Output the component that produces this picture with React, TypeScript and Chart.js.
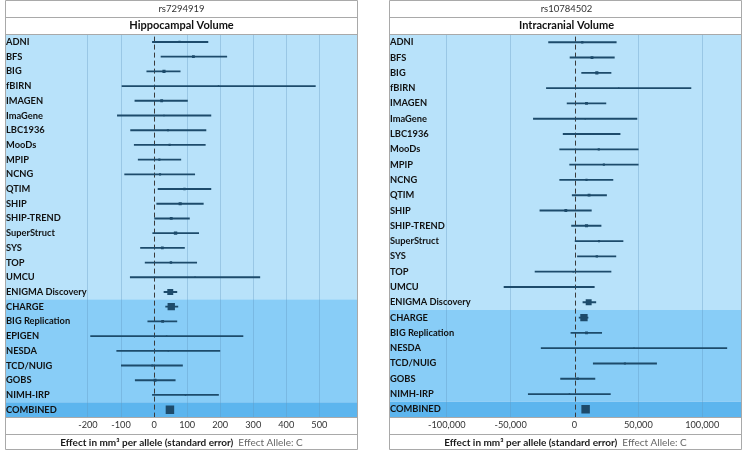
import React, { useEffect, useRef } from 'react';
import { Chart, registerables } from 'chart.js';

Chart.register(...registerables);

const FONT = 'Lato, "DejaVu Sans", sans-serif';

// ---------- Left panel: rs7294919 / Hippocampal Volume ----------
const hvSnp = 'rs7294919';
const hvTitle = 'Hippocampal Volume';
const hvStudies = ['ADNI', 'BFS', 'BIG', 'fBIRN', 'IMAGEN', 'ImaGene', 'LBC1936', 'MooDs', 'MPIP', 'NCNG', 'QTIM', 'SHIP', 'SHIP-TREND', 'SuperStruct', 'SYS', 'TOP', 'UMCU', 'ENIGMA Discovery', 'CHARGE', 'BIG Replication', 'EPIGEN', 'NESDA', 'TCD/NUIG', 'GOBS', 'NIMH-IRP', 'COMBINED'];
const hvEffect = [77, 119, 30, 195, 23, 30, 42, 47, 16, 18, 92, 79, 52, 65, 25, 51, 124, 49, 52, 26, 38, 43, -5, 3, 95, 48];
const hvLower = [-5, 21, -22, -97, -58, -111, -71, -60, -48, -89, 12, 8, 0, -4, -41, -27, -72, 30, 35, -19, -192, -113, -99, -57, -5, 43];
const hvUpper = [163, 220, 79, 488, 101, 172, 157, 155, 81, 123, 172, 149, 107, 135, 92, 129, 320, 69, 72, 69, 269, 199, 86, 64, 195, 53];
const hvWeight = [1.6, 2, 2.2, 1, 2, 1, 1.5, 1.5, 1.5, 1.5, 1.7, 2.2, 2, 2.4, 2, 1.7, 1, 4.2, 5.2, 2, 1, 1, 1.5, 2, 1, 6];
const hvGroupSizes = [18, 7, 1];
const hvTicks = [-200, -100, 0, 100, 200, 300, 400, 500];

// ---------- Right panel: rs10784502 / Intracranial Volume ----------
const icvSnp = 'rs10784502';
const icvTitle = 'Intracranial Volume';
const icvStudies = ['ADNI', 'BFS', 'BIG', 'fBIRN', 'IMAGEN', 'ImaGene', 'LBC1936', 'MooDs', 'MPIP', 'NCNG', 'QTIM', 'SHIP', 'SHIP-TREND', 'SuperStruct', 'SYS', 'TOP', 'UMCU', 'ENIGMA Discovery', 'CHARGE', 'BIG Replication', 'NESDA', 'TCD/NUIG', 'GOBS', 'NIMH-IRP', 'COMBINED'];
const icvEffect = [6100, 13700, 17500, 34600, 9400, 8400, 13700, 19000, 23000, 9400, 11400, -6800, 9400, 19200, 17500, -1000, -19800, 11100, 7400, 9400, 46600, 39500, 2500, -4000, 8700];
const icvLower = [-20300, -3500, 5600, -22000, -5800, -32200, -8900, -11600, -3800, -11600, -1800, -27100, -2300, 500, 2300, -30900, -55200, 6600, 3600, -2800, -26100, 14700, -10900, -36200, 7500];
const icvUpper = [32700, 31200, 28600, 91200, 24600, 48900, 35700, 49900, 49900, 30100, 25100, 13200, 20800, 38000, 32400, 28600, 15500, 16700, 10600, 21300, 119300, 64300, 16000, 28100, 10000];
const icvWeight = [1.6, 2, 2.2, 1, 2, 1, 1.5, 1.5, 1.5, 1.5, 2, 2, 2.2, 1.5, 1.7, 1, 1, 4.2, 5.2, 2, 1, 1.5, 1.7, 1, 6];
const icvGroupSizes = [18, 6, 1];
const icvTicks = [-100000, -50000, 0, 50000, 100000];

const xLabelMain = 'Effect in mm³ per allele (standard error)';
const xLabelAllele = 'Effect Allele: C';

const bandColors = ['#b8e2fa', '#88cdf7', '#5cb5ee'];
const borderColor = '#a9a9a9';
const markColor = '#1d4b6b';

const forestPlugin = {
  id: 'forest',
  beforeDraw(chart: any, _args: any, opts: any) {
    const { ctx, chartArea: ca, scales } = chart;
    const y = scales.y;
    const n = chart.data.labels.length;
    const rowH = (ca.bottom - ca.top) / n;
    ctx.save();
    ctx.fillStyle = '#ffffff';
    ctx.fillRect(0, 0, chart.width, chart.height);
    let start = 0;
    opts.groups.forEach((count: number, gi: number) => {
      const top = y.getPixelForValue(start) - rowH / 2;
      const bottom = y.getPixelForValue(start + count - 1) + rowH / 2;
      ctx.fillStyle = bandColors[gi];
      ctx.fillRect(ca.left, top, ca.right - ca.left, bottom - top);
      start += count;
    });
    ctx.restore();
  },
  beforeDatasetsDraw(chart: any) {
    const { ctx, chartArea: ca, scales } = chart;
    const x0 = Math.round(scales.x.getPixelForValue(0)) + 0.5;
    ctx.save();
    ctx.strokeStyle = '#3a3a3a';
    ctx.lineWidth = 1;
    ctx.setLineDash([5, 3]);
    ctx.beginPath();
    ctx.moveTo(x0, ca.top + 2);
    ctx.lineTo(x0, ca.bottom);
    ctx.stroke();
    ctx.restore();
  },
  afterDraw(chart: any) {
    const { ctx, chartArea: ca } = chart;
    const left = ca.left - 0.5;
    const right = ca.right + 0.5;
    const titleBottom = Math.round(chart.titleBlock.bottom) + 0.5;
    const lines = [0.5, titleBottom, Math.round(ca.top) - 0.5, Math.round(ca.bottom) + 0.5, Math.round(ca.bottom) + 17.5, chart.height - 1.5];
    ctx.save();
    ctx.strokeStyle = borderColor;
    ctx.lineWidth = 1;
    ctx.beginPath();
    lines.forEach((yy) => {
      ctx.moveTo(left, yy);
      ctx.lineTo(right, yy);
    });
    ctx.moveTo(left, 0.5);
    ctx.lineTo(left, chart.height - 1.5);
    ctx.moveTo(right, 0.5);
    ctx.lineTo(right, chart.height - 1.5);
    ctx.stroke();

    // x-axis caption: bold part + grey allele note
    const cy = ca.bottom + 17 + 8.5;
    ctx.textBaseline = 'middle';
    ctx.font = `bold 10px ${FONT}`;
    const w1 = ctx.measureText(xLabelMain).width;
    ctx.font = `10px ${FONT}`;
    const gap = 5;
    const w2 = ctx.measureText(xLabelAllele).width;
    const mid = (ca.left + Math.min(ca.right, chart.width - 2)) / 2;
    const sx = mid - (w1 + gap + w2) / 2;
    ctx.textAlign = 'left';
    ctx.font = `bold 10px ${FONT}`;
    ctx.fillStyle = '#1a1a1a';
    ctx.fillText(xLabelMain, sx, cy);
    ctx.font = `10px ${FONT}`;
    ctx.fillStyle = '#666666';
    ctx.fillText(xLabelAllele, sx + w1 + gap, cy);
    ctx.restore();
  },
};

type PanelProps = {
  snp: string;
  title: string;
  studies: string[];
  effect: number[];
  lower: number[];
  upper: number[];
  weight: number[];
  groups: number[];
  ticks: number[];
  min: number;
  max: number;
  width: number;
  left: number;
  padRight: number;
};

function ForestPanel(p: PanelProps) {
  const ref = useRef<HTMLCanvasElement | null>(null);
  useEffect(() => {
    if (!ref.current) return;
    const chart = new Chart(ref.current, {
      type: 'bar',
      data: {
        labels: p.studies,
        datasets: [
          {
            type: 'bar',
            data: p.studies.map((_, i) => [p.lower[i], p.upper[i]]) as any,
            backgroundColor: markColor,
            borderWidth: 0,
            barThickness: 1.2,
            order: 2,
          } as any,
          {
            type: 'scatter',
            data: p.studies.map((s, i) => ({ x: p.effect[i], y: s })) as any,
            pointStyle: 'rect',
            pointRadius: p.weight,
            pointBackgroundColor: markColor,
            pointBorderWidth: 0,
            order: 1,
          } as any,
        ],
      },
      options: {
        indexAxis: 'y',
        responsive: false,
        animation: false,
        events: [],
        layout: { padding: { left: 2, right: p.padRight, top: 0, bottom: 1 } },
        plugins: {
          legend: { display: false },
          tooltip: { enabled: false },
          title: {
            display: true,
            text: p.snp,
            color: '#333333',
            font: { family: FONT, size: 9.5, weight: 'normal', lineHeight: 1.4 },
            padding: { top: 2, bottom: 2 },
          },
          subtitle: {
            display: true,
            text: p.title,
            color: '#111111',
            font: { family: FONT, size: 11, weight: 'bold', lineHeight: 1.3 },
            padding: { top: 1.5, bottom: 1.5 },
          },
          forest: { groups: p.groups },
        } as any,
        scales: {
          x: {
            type: 'linear',
            min: p.min,
            max: p.max,
            afterBuildTicks: (scale: any) => {
              scale.ticks = p.ticks.map((v) => ({ value: v }));
            },
            afterFit: (scale: any) => {
              scale.height = 33;
            },
            grid: {
              drawTicks: false,
              color: (ctx: any) => (ctx.tick && ctx.tick.value === 0 ? 'rgba(0,0,0,0)' : 'rgba(95,150,190,0.35)'),
            },
            border: { display: false },
            ticks: {
              padding: 3,
              autoSkip: false,
              maxRotation: 0,
              color: '#333333',
              font: { family: FONT, size: 9.2 },
              callback: (v: any) => Number(v).toLocaleString('en-US'),
            },
          },
          y: {
            type: 'category',
            afterFit: (scale: any) => {
              scale.width = 0;
            },
            grid: { display: false, drawTicks: false },
            border: { display: false },
            ticks: {
              mirror: true,
              padding: 0,
              autoSkip: false,
              color: '#111111',
              font: { family: FONT, size: 9.3, weight: 'bold' },
            },
          },
        },
      } as any,
      plugins: [forestPlugin as any],
    });
    return () => chart.destroy();
  }, []);
  return (
    <canvas
      ref={ref}
      width={p.width}
      height={451}
      style={{ position: 'absolute', left: p.left, top: 0, width: p.width, height: 451, display: 'block' }}
    />
  );
}

export default function App() {
  return (
    <div style={{ position: 'absolute', left: 0, top: 0, width: 746, height: 451, overflow: 'hidden', background: '#ffffff' }}>
      <ForestPanel
        snp={hvSnp}
        title={hvTitle}
        studies={hvStudies}
        effect={hvEffect}
        lower={hvLower}
        upper={hvUpper}
        weight={hvWeight}
        groups={hvGroupSizes}
        ticks={hvTicks}
        min={-448}
        max={614}
        width={363}
        left={0}
        padRight={2}
      />
      <ForestPanel
        snp={icvSnp}
        title={icvTitle}
        studies={icvStudies}
        effect={icvEffect}
        lower={icvLower}
        upper={icvUpper}
        weight={icvWeight}
        groups={icvGroupSizes}
        ticks={icvTicks}
        min={-144500}
        max={130400}
        width={363}
        left={384}
        padRight={0}
      />
    </div>
  );
}
